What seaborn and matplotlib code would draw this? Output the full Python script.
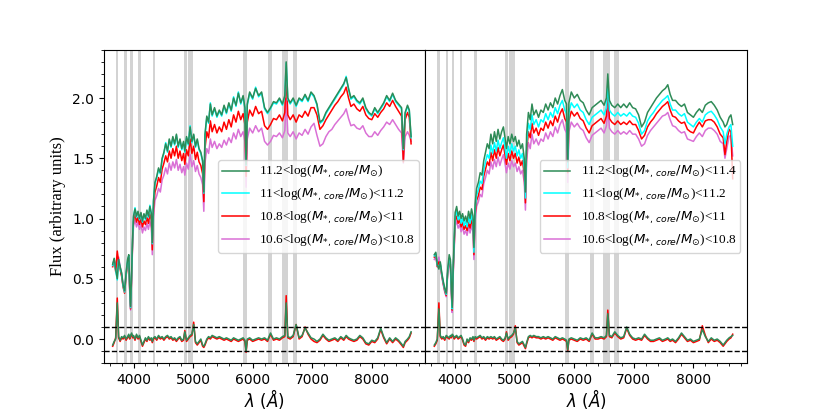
import matplotlib
matplotlib.use("Agg")
import matplotlib.pyplot as plt
from matplotlib.ticker import MultipleLocator
import seaborn as sns

# wavelength grid (Angstrom), shared by all spectra
wave = [3650, 3675, 3700, 3727, 3750, 3775, 3800, 3825, 3850, 3875,
        3900, 3920, 3935, 3950, 3968, 3985, 4000, 4025, 4050, 4075,
        4100, 4125, 4150, 4175, 4200, 4225, 4250, 4275, 4300, 4315,
        4335, 4360, 4390, 4420, 4450, 4480, 4510, 4540, 4570, 4600,
        4630, 4660, 4690, 4720, 4750, 4780, 4810, 4840, 4861, 4890,
        4920, 4950, 4980, 5010, 5040, 5070, 5100, 5130, 5160, 5180,
        5200, 5230, 5260, 5290, 5320, 5360, 5400, 5440, 5480, 5520,
        5560, 5600, 5640, 5680, 5720, 5760, 5800, 5840, 5870, 5890,
        5910, 5950, 6000, 6050, 6100, 6150, 6200, 6250, 6300, 6350,
        6400, 6450, 6500, 6540, 6563, 6590, 6630, 6680, 6730, 6780,
        6830, 6880, 6930, 6980, 7030, 7080, 7130, 7180, 7230, 7280,
        7330, 7380, 7430, 7480, 7530, 7570, 7610, 7650, 7700, 7750,
        7800, 7850, 7900, 7950, 8000, 8050, 8100, 8150, 8200, 8250,
        8300, 8350, 8400, 8450, 8500, 8530, 8560, 8600, 8630, 8660]

# ---- left panel ----
left_green = [0.62, 0.67, 0.58, 0.50, 0.66, 0.60, 0.55, 0.45, 0.40, 0.55,
              0.66, 0.70, 0.45, 0.27, 0.55, 0.85, 1.02, 1.08, 1.02, 1.06,
              1.00, 1.05, 0.98, 1.04, 1.00, 1.07, 1.02, 1.10, 1.04, 0.80,
              1.15, 1.30, 1.35, 1.42, 1.38, 1.50, 1.55, 1.62, 1.56, 1.66,
              1.60, 1.68, 1.62, 1.70, 1.60, 1.66, 1.58, 1.64, 1.56, 1.68,
              1.62, 1.76, 1.64, 1.70, 1.60, 1.66, 1.58, 1.55, 1.48, 1.22,
              1.70, 1.85, 1.80, 1.95, 1.86, 1.92, 1.85, 1.90, 1.86, 1.94,
              1.88, 1.96, 1.90, 2.00, 1.94, 2.04, 1.96, 2.02, 1.92, 1.45,
              1.95, 2.05, 2.00, 2.08, 2.02, 2.05, 1.92, 1.88, 1.92, 1.97,
              1.96, 2.00, 1.95, 2.02, 2.30, 2.00, 1.96, 2.00, 1.94, 2.00,
              1.98, 2.03, 1.98, 2.05, 2.02, 1.95, 1.80, 1.82, 1.88, 1.92,
              1.96, 2.00, 2.04, 2.08, 2.12, 2.17, 2.08, 2.00, 2.02, 1.98,
              1.96, 2.00, 1.92, 1.88, 1.86, 1.92, 1.88, 1.92, 1.96, 2.02,
              1.98, 2.04, 1.98, 1.95, 1.92, 1.58, 1.88, 1.94, 1.90, 1.68]
left_cyan = [0.61, 0.66, 0.57, 0.49, 0.65, 0.59, 0.54, 0.44, 0.39, 0.54,
             0.65, 0.69, 0.44, 0.26, 0.54, 0.84, 1.01, 1.09, 1.01, 1.05,
             0.99, 1.04, 0.97, 1.03, 0.99, 1.06, 1.01, 1.11, 1.03, 0.79,
             1.14, 1.29, 1.34, 1.41, 1.37, 1.49, 1.54, 1.63, 1.55, 1.65,
             1.59, 1.67, 1.61, 1.69, 1.59, 1.65, 1.57, 1.63, 1.55, 1.67,
             1.61, 1.77, 1.63, 1.69, 1.59, 1.65, 1.57, 1.54, 1.47, 1.21,
             1.69, 1.84, 1.79, 1.96, 1.85, 1.91, 1.84, 1.89, 1.85, 1.93,
             1.87, 1.95, 1.89, 2.01, 1.93, 2.05, 1.95, 2.01, 1.91, 1.44,
             1.94, 2.04, 1.99, 2.09, 2.01, 2.04, 1.91, 1.87, 1.91, 1.96,
             1.95, 1.99, 1.94, 2.01, 2.29, 1.99, 1.95, 1.99, 1.93, 1.99,
             1.97, 2.02, 1.97, 2.04, 2.01, 1.94, 1.79, 1.81, 1.87, 1.91,
             1.95, 1.99, 2.03, 2.07, 2.11, 2.18, 2.07, 1.99, 2.01, 1.97,
             1.95, 1.99, 1.91, 1.87, 1.85, 1.91, 1.87, 1.91, 1.95, 2.01,
             1.97, 2.03, 1.97, 1.94, 1.91, 1.57, 1.87, 1.93, 1.89, 1.67]
left_red = [0.60, 0.66, 0.56, 0.73, 0.64, 0.58, 0.52, 0.43, 0.38, 0.52,
            0.63, 0.68, 0.42, 0.25, 0.52, 0.82, 0.98, 1.04, 0.97, 1.01,
            0.95, 1.00, 0.93, 0.98, 0.95, 1.01, 0.96, 1.04, 0.98, 0.74,
            1.08, 1.22, 1.27, 1.34, 1.30, 1.41, 1.46, 1.52, 1.47, 1.56,
            1.50, 1.58, 1.52, 1.60, 1.50, 1.56, 1.48, 1.54, 1.45, 1.57,
            1.52, 1.66, 1.54, 1.60, 1.49, 1.55, 1.47, 1.44, 1.37, 1.14,
            1.58, 1.72, 1.67, 1.81, 1.72, 1.78, 1.71, 1.76, 1.72, 1.80,
            1.74, 1.82, 1.76, 1.86, 1.80, 1.89, 1.82, 1.87, 1.78, 1.35,
            1.80, 1.90, 1.85, 1.93, 1.87, 1.89, 1.77, 1.74, 1.78, 1.83,
            1.82, 1.86, 1.81, 1.88, 2.22, 1.86, 1.82, 1.86, 1.80, 1.86,
            1.84, 1.89, 1.85, 1.92, 1.92, 1.86, 1.74, 1.77, 1.82, 1.86,
            1.90, 1.94, 1.97, 2.01, 2.04, 2.09, 2.00, 1.93, 1.95, 1.91,
            1.89, 1.93, 1.86, 1.83, 1.82, 1.87, 1.84, 1.88, 1.91, 1.96,
            1.93, 1.98, 1.93, 1.89, 1.85, 1.47, 1.82, 1.88, 1.84, 1.62]
left_violet = [0.61, 0.66, 0.58, 0.62, 0.68, 0.60, 0.54, 0.44, 0.40, 0.54,
               0.62, 0.66, 0.40, 0.24, 0.50, 0.78, 0.94, 0.99, 0.93, 0.97,
               0.91, 0.95, 0.88, 0.93, 0.90, 0.96, 0.91, 0.98, 0.92, 0.70,
               1.02, 1.15, 1.19, 1.25, 1.22, 1.32, 1.36, 1.42, 1.37, 1.46,
               1.40, 1.47, 1.42, 1.49, 1.40, 1.45, 1.38, 1.43, 1.36, 1.46,
               1.41, 1.53, 1.43, 1.48, 1.39, 1.44, 1.37, 1.34, 1.28, 1.06,
               1.46, 1.58, 1.54, 1.66, 1.59, 1.64, 1.58, 1.62, 1.59, 1.65,
               1.61, 1.67, 1.63, 1.71, 1.66, 1.74, 1.68, 1.72, 1.64, 1.26,
               1.66, 1.75, 1.71, 1.77, 1.72, 1.75, 1.64, 1.61, 1.64, 1.69,
               1.68, 1.71, 1.67, 1.73, 2.00, 1.71, 1.68, 1.72, 1.66, 1.71,
               1.69, 1.74, 1.70, 1.76, 1.79, 1.69, 1.60, 1.62, 1.68, 1.72,
               1.74, 1.78, 1.81, 1.84, 1.87, 1.91, 1.83, 1.77, 1.78, 1.75,
               1.74, 1.77, 1.71, 1.68, 1.68, 1.72, 1.69, 1.73, 1.76, 1.80,
               1.78, 1.82, 1.78, 1.74, 1.71, 1.46, 1.68, 1.72, 1.69, 1.64]
left_res_green = [-0.05, -0.02, 0.00, 0.30, 0.02, -0.01, 0.02, 0.01, 0.03, 0.00,
                  0.02, 0.04, 0.01, 0.03, 0.05, 0.02, 0.03, 0.00, 0.04, 0.01,
                  0.03, -0.01, -0.05, -0.02, 0.01, -0.01, 0.02, 0.00, 0.01, -0.02,
                  0.01, 0.02, 0.00, 0.03, 0.01, 0.02, 0.00, 0.02, 0.03, 0.01,
                  0.02, 0.00, 0.01, -0.01, 0.01, 0.02, -0.01, 0.00, 0.06, -0.01,
                  0.01, 0.03, 0.04, 0.12, -0.02, -0.04, -0.02, 0.00, -0.05, -0.06,
                  -0.04, 0.00, 0.02, 0.01, 0.03, 0.02, 0.01, 0.02, 0.01, 0.00,
                  0.01, 0.00, -0.01, 0.01, 0.00, -0.01, 0.00, 0.01, -0.01, -0.10,
                  0.00, 0.01, -0.01, 0.00, 0.01, 0.00, 0.01, -0.01, 0.05, 0.00,
                  0.01, 0.00, 0.02, 0.03, 0.30, 0.02, 0.01, 0.03, 0.12, 0.01,
                  0.03, 0.09, 0.05, 0.01, 0.00, -0.02, 0.00, 0.04, 0.01, -0.01,
                  0.00, 0.01, -0.01, 0.02, 0.00, 0.03, 0.01, 0.00, -0.01, 0.00,
                  0.03, 0.01, -0.03, -0.04, -0.01, -0.02, 0.01, 0.09, 0.02, -0.03,
                  0.01, -0.02, 0.01, -0.01, -0.04, -0.06, -0.02, 0.00, 0.02, 0.06]
left_res_red = [-0.06, -0.03, 0.01, 0.34, 0.01, -0.02, 0.01, 0.00, 0.02, -0.01,
                0.01, 0.03, 0.00, 0.02, 0.04, 0.01, 0.02, -0.01, 0.03, 0.00,
                0.02, -0.02, -0.06, -0.03, 0.00, -0.02, 0.01, -0.01, 0.00, -0.03,
                0.00, 0.01, -0.01, 0.02, 0.00, 0.01, -0.01, 0.01, 0.02, 0.00,
                0.01, -0.01, 0.00, -0.02, 0.00, 0.01, -0.02, -0.01, 0.07, -0.02,
                0.00, 0.02, 0.03, 0.14, -0.03, -0.05, -0.03, -0.01, -0.06, -0.07,
                -0.05, -0.01, 0.01, 0.00, 0.02, 0.01, 0.00, 0.01, 0.00, -0.01,
                0.00, -0.01, -0.02, 0.00, -0.01, -0.02, -0.01, 0.00, -0.02, -0.11,
                -0.01, 0.00, -0.02, -0.01, 0.00, -0.01, 0.00, -0.02, 0.04, -0.01,
                0.00, -0.01, 0.01, 0.02, 0.36, 0.01, 0.00, 0.02, 0.12, 0.00,
                0.02, 0.10, 0.04, 0.00, -0.02, -0.03, -0.01, 0.03, 0.00, -0.02,
                -0.01, 0.00, -0.02, 0.01, -0.01, 0.02, 0.00, -0.01, -0.02, -0.01,
                0.02, 0.00, -0.04, -0.05, -0.02, -0.03, 0.00, 0.08, 0.01, -0.04,
                0.00, -0.03, 0.00, -0.02, -0.05, -0.07, -0.03, -0.01, 0.01, 0.05]

# ---- right panel ----
right_green = [0.70, 0.72, 0.62, 0.58, 0.64, 0.55, 0.48, 0.42, 0.38, 0.58,
               0.70, 0.66, 0.45, 0.26, 0.62, 0.85, 1.05, 1.10, 1.02, 1.06,
               1.00, 1.04, 0.98, 1.02, 0.97, 1.06, 1.00, 1.08, 1.02, 0.76,
               1.12, 1.25, 1.30, 1.38, 1.36, 1.48, 1.55, 1.62, 1.58, 1.70,
               1.62, 1.72, 1.64, 1.74, 1.66, 1.72, 1.76, 1.66, 1.58, 1.68,
               1.62, 1.70, 1.64, 1.68, 1.60, 1.65, 1.58, 1.62, 1.50, 1.22,
               1.70, 1.88, 1.82, 1.95, 1.86, 1.90, 1.84, 1.90, 1.88, 1.95,
               1.90, 1.96, 1.92, 2.00, 1.95, 2.02, 2.07, 1.98, 1.95, 1.47,
               1.96, 2.05, 2.00, 2.03, 1.98, 1.96, 1.90, 1.86, 1.92, 1.94,
               1.96, 1.98, 1.94, 2.00, 2.20, 1.98, 1.94, 1.92, 1.95, 1.92,
               1.95, 1.92, 1.96, 1.92, 1.91, 1.86, 1.76, 1.80, 1.88, 1.92,
               1.96, 2.00, 2.03, 2.06, 2.08, 2.11, 2.03, 1.98, 1.98, 1.95,
               1.93, 1.95, 1.88, 1.86, 1.84, 1.88, 1.91, 1.88, 1.94, 1.96,
               1.97, 1.94, 1.90, 1.84, 1.80, 1.76, 1.78, 1.84, 1.86, 1.78]
right_cyan = [0.69, 0.71, 0.61, 0.60, 0.63, 0.54, 0.47, 0.41, 0.37, 0.56,
              0.67, 0.64, 0.43, 0.25, 0.59, 0.82, 1.02, 1.06, 0.99, 1.02,
              0.96, 1.00, 0.94, 0.98, 0.93, 1.01, 0.96, 1.03, 0.97, 0.72,
              1.07, 1.19, 1.24, 1.31, 1.29, 1.40, 1.47, 1.53, 1.50, 1.61,
              1.54, 1.63, 1.56, 1.65, 1.58, 1.63, 1.67, 1.58, 1.50, 1.60,
              1.54, 1.62, 1.56, 1.60, 1.52, 1.57, 1.50, 1.54, 1.42, 1.17,
              1.62, 1.79, 1.74, 1.86, 1.78, 1.82, 1.76, 1.82, 1.80, 1.87,
              1.82, 1.88, 1.84, 1.92, 1.87, 1.94, 1.98, 1.90, 1.87, 1.42,
              1.88, 1.96, 1.92, 1.95, 1.90, 1.88, 1.82, 1.78, 1.84, 1.86,
              1.88, 1.90, 1.86, 1.92, 2.12, 1.90, 1.87, 1.85, 1.88, 1.85,
              1.87, 1.85, 1.88, 1.85, 1.84, 1.79, 1.70, 1.73, 1.81, 1.85,
              1.88, 1.92, 1.95, 1.98, 2.00, 2.02, 1.95, 1.90, 1.90, 1.87,
              1.85, 1.87, 1.80, 1.78, 1.76, 1.80, 1.83, 1.80, 1.86, 1.88,
              1.89, 1.86, 1.82, 1.76, 1.72, 1.62, 1.70, 1.76, 1.78, 1.60]
right_red = [0.68, 0.70, 0.60, 0.64, 0.62, 0.53, 0.46, 0.40, 0.36, 0.55,
             0.65, 0.62, 0.41, 0.24, 0.57, 0.79, 0.98, 1.02, 0.96, 0.99,
             0.93, 0.97, 0.91, 0.94, 0.90, 0.97, 0.92, 0.99, 0.93, 0.70,
             1.03, 1.15, 1.19, 1.26, 1.24, 1.35, 1.41, 1.47, 1.44, 1.55,
             1.48, 1.57, 1.50, 1.59, 1.52, 1.57, 1.61, 1.52, 1.45, 1.54,
             1.48, 1.56, 1.50, 1.54, 1.46, 1.51, 1.44, 1.48, 1.37, 1.13,
             1.56, 1.72, 1.67, 1.79, 1.71, 1.75, 1.69, 1.75, 1.73, 1.80,
             1.75, 1.81, 1.77, 1.85, 1.80, 1.87, 1.91, 1.83, 1.80, 1.38,
             1.81, 1.89, 1.85, 1.88, 1.83, 1.81, 1.75, 1.71, 1.77, 1.79,
             1.81, 1.83, 1.79, 1.85, 2.06, 1.83, 1.80, 1.78, 1.81, 1.78,
             1.80, 1.78, 1.81, 1.78, 1.78, 1.73, 1.66, 1.69, 1.76, 1.80,
             1.83, 1.87, 1.90, 1.93, 1.95, 1.97, 1.90, 1.85, 1.84, 1.81,
             1.79, 1.80, 1.74, 1.72, 1.71, 1.76, 1.80, 1.76, 1.81, 1.82,
             1.82, 1.80, 1.76, 1.70, 1.67, 1.53, 1.64, 1.74, 1.72, 1.33]
right_violet = [0.66, 0.69, 0.60, 0.68, 0.61, 0.52, 0.45, 0.39, 0.35, 0.54,
                0.63, 0.60, 0.39, 0.22, 0.54, 0.76, 0.94, 0.98, 0.92, 0.95,
                0.89, 0.93, 0.87, 0.90, 0.86, 0.93, 0.88, 0.94, 0.89, 0.66,
                0.98, 1.10, 1.14, 1.20, 1.18, 1.29, 1.34, 1.40, 1.37, 1.47,
                1.41, 1.49, 1.43, 1.51, 1.44, 1.49, 1.53, 1.45, 1.38, 1.46,
                1.41, 1.48, 1.43, 1.46, 1.39, 1.43, 1.37, 1.40, 1.30, 1.07,
                1.48, 1.63, 1.58, 1.70, 1.62, 1.66, 1.61, 1.66, 1.64, 1.71,
                1.66, 1.72, 1.68, 1.76, 1.71, 1.78, 1.82, 1.74, 1.71, 1.30,
                1.72, 1.80, 1.76, 1.79, 1.75, 1.73, 1.67, 1.63, 1.69, 1.71,
                1.73, 1.75, 1.71, 1.77, 1.94, 1.75, 1.72, 1.70, 1.73, 1.70,
                1.72, 1.70, 1.73, 1.70, 1.70, 1.66, 1.60, 1.62, 1.69, 1.73,
                1.76, 1.79, 1.82, 1.85, 1.86, 1.88, 1.82, 1.77, 1.76, 1.73,
                1.71, 1.72, 1.66, 1.65, 1.64, 1.68, 1.71, 1.68, 1.73, 1.75,
                1.75, 1.73, 1.70, 1.64, 1.62, 1.50, 1.58, 1.68, 1.69, 1.52]
right_res_green = [-0.05, -0.03, 0.00, 0.25, 0.03, 0.01, 0.02, 0.00, 0.03, 0.02,
                   0.01, 0.03, 0.02, 0.04, 0.03, 0.01, 0.02, 0.03, 0.01, 0.02,
                   0.03, 0.00, -0.04, -0.05, 0.00, -0.02, 0.01, 0.00, 0.02, -0.01,
                   0.02, 0.01, 0.02, 0.03, 0.01, 0.02, 0.00, 0.02, 0.01, 0.02,
                   0.01, 0.02, 0.00, 0.01, 0.02, 0.00, -0.01, 0.01, 0.05, 0.00,
                   0.02, 0.03, 0.05, 0.09, -0.02, -0.04, -0.03, -0.02, -0.05, -0.07,
                   -0.03, 0.02, 0.03, 0.02, 0.03, 0.02, 0.02, 0.01, 0.02, 0.01,
                   0.02, 0.01, 0.00, 0.02, 0.01, 0.00, 0.01, 0.00, -0.01, -0.09,
                   0.00, 0.01, 0.00, -0.01, 0.01, 0.00, 0.01, -0.01, 0.05, 0.01,
                   0.01, 0.02, 0.01, 0.03, 0.21, 0.03, 0.02, 0.06, 0.03, 0.01,
                   0.02, 0.10, 0.04, 0.01, 0.00, 0.01, 0.00, 0.04, 0.01, -0.01,
                   -0.01, 0.00, 0.01, -0.01, 0.00, 0.01, -0.01, 0.00, -0.02, 0.01,
                   0.05, 0.02, -0.01, 0.00, -0.02, -0.01, 0.00, 0.08, 0.02, -0.02,
                   0.01, -0.01, 0.00, -0.02, -0.05, -0.03, -0.01, 0.01, 0.02, 0.03]
right_res_red = [-0.06, -0.04, -0.01, 0.30, 0.02, 0.00, 0.01, -0.01, 0.02, 0.01,
                 0.00, 0.02, 0.01, 0.03, 0.02, 0.00, 0.01, 0.02, 0.00, 0.01,
                 0.02, -0.01, -0.05, -0.06, -0.01, -0.03, 0.00, -0.01, 0.01, -0.02,
                 0.01, 0.00, 0.01, 0.02, 0.00, 0.01, -0.01, 0.01, 0.00, 0.01,
                 0.00, 0.01, -0.01, 0.00, 0.01, -0.01, -0.02, 0.00, 0.06, -0.01,
                 0.01, 0.02, 0.04, 0.11, -0.03, -0.05, -0.04, -0.03, -0.06, -0.08,
                 -0.04, 0.01, 0.02, 0.01, 0.02, 0.01, 0.01, 0.00, 0.01, 0.00,
                 0.01, 0.00, -0.01, 0.01, 0.00, -0.01, 0.00, -0.01, -0.02, -0.10,
                 -0.01, 0.00, -0.01, -0.02, 0.00, -0.01, 0.00, -0.02, 0.04, 0.00,
                 0.00, 0.01, 0.00, 0.02, 0.24, 0.02, 0.01, 0.05, 0.02, 0.00,
                 0.01, 0.09, 0.03, 0.00, -0.01, 0.00, -0.01, 0.03, 0.00, -0.02,
                 -0.02, -0.01, 0.00, -0.02, -0.01, 0.00, -0.02, -0.01, -0.03, 0.00,
                 0.04, 0.01, -0.02, -0.01, -0.03, -0.02, -0.01, 0.11, 0.03, -0.03,
                 0.00, -0.02, -0.01, -0.03, -0.06, -0.04, -0.02, 0.00, 0.01, 0.04]

# masked emission / sky line windows
bands = [(3701, 3746), (3841, 3886), (3942, 3987), (4082, 4121), (4322, 4361),
         (4840, 4890), (4910, 4999), (5840, 5910), (6258, 6330), (6485, 6593),
         (6671, 6744)]

mass_lbl = r"log($M_{*,\,core}/M_{\odot}$)"
left_labels = ["11.2<" + mass_lbl, "11<" + mass_lbl + "<11.2",
               "10.8<" + mass_lbl + "<11", "10.6<" + mass_lbl + "<10.8"]
right_labels = ["11.2<" + mass_lbl + "<11.4"] + left_labels[1:]

colors = ["seagreen", "cyan", "red", "orchid"]

fig, axes = plt.subplots(1, 2, sharey=True, figsize=(8.3, 4.15), dpi=100)
plt.subplots_adjust(left=0.125, right=0.9, top=0.88, bottom=0.125, wspace=0)

panels = [
    (axes[0], [left_green, left_cyan, left_red, left_violet],
     left_res_red, left_res_green, left_labels),
    (axes[1], [right_green, right_cyan, right_red, right_violet],
     right_res_red, right_res_green, right_labels),
]

for ax, spectra, res_red, res_green, labels in panels:
    for lo, hi in bands:
        ax.axvspan(lo, hi, color="lightgray", lw=0, zorder=0)
    # draw faintest first so the green ends up on top
    for spec, col, lab in reversed(list(zip(spectra, colors, labels))):
        sns.lineplot(x=wave, y=spec, ax=ax, color=col, lw=1.1, label=lab,
                     estimator=None, sort=False)
    sns.lineplot(x=wave, y=res_red, ax=ax, color="red", lw=1.1, estimator=None, sort=False)
    sns.lineplot(x=wave, y=res_green, ax=ax, color="seagreen", lw=1.1, estimator=None, sort=False)
    ax.axhline(0.1, color="k", ls="--", lw=1)
    ax.axhline(-0.1, color="k", ls="--", lw=1)

    handles, labs = ax.get_legend_handles_labels()
    ax.legend(handles[::-1], labs[::-1], loc="center right", borderpad=0.3,
              prop={"family": "Liberation Serif", "size": 9.5})

    ax.set_xlim(3500, 8900)
    ax.xaxis.set_major_locator(MultipleLocator(1000))
    ax.xaxis.set_minor_locator(MultipleLocator(200))
    ax.set_xlabel(r"$\lambda\ (\AA)$", fontsize=12, labelpad=0)
    ax.set_ylabel("")

axes[0].set_ylim(-0.2, 2.4)
axes[0].yaxis.set_major_locator(MultipleLocator(0.5))
axes[0].yaxis.set_minor_locator(MultipleLocator(0.1))
axes[0].set_ylabel("Flux (arbitrary units)", family="Liberation Serif", fontsize=12)
axes[1].tick_params(axis="y", which="both", left=False, labelleft=False)

fig.savefig("out.png", dpi=100)
